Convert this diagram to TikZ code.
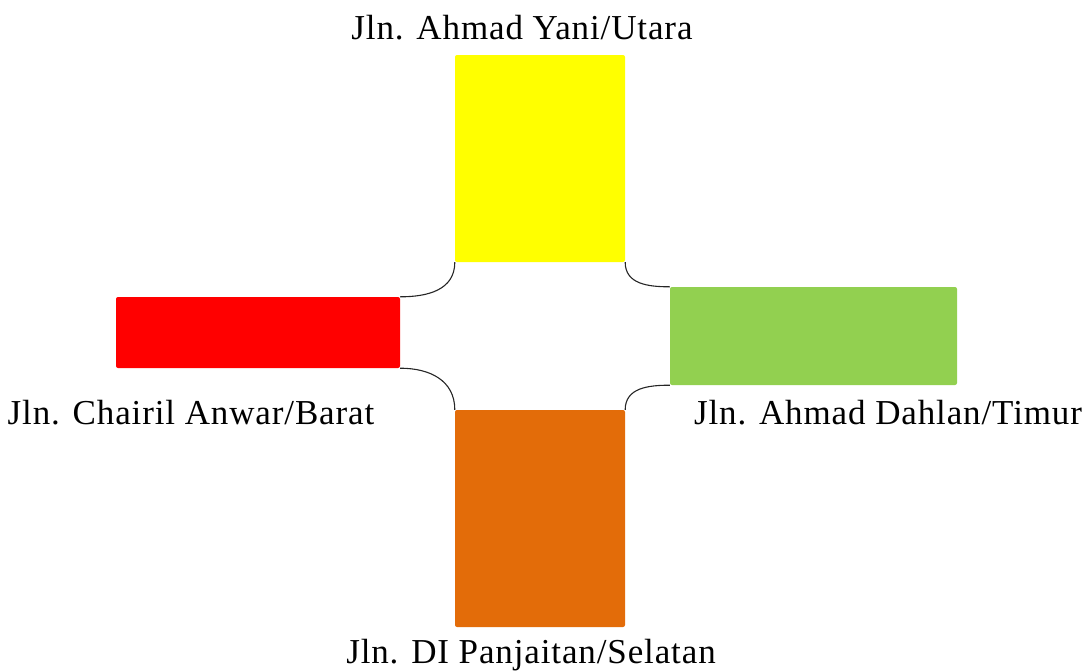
\documentclass[tikz,border=0pt]{standalone}
\usepackage{fontspec}
\setmainfont[LetterSpace=2.5]{Liberation Serif}
\definecolor{cyellow}{HTML}{FFFF00}
\definecolor{cred}{HTML}{FF0000}
\definecolor{cgreen}{HTML}{92D050}
\definecolor{corange}{HTML}{E36C09}
\begin{document}
\begin{tikzpicture}[x=1pt,y=1pt,
  road/.style={draw=none,rounded corners=2pt,inner sep=0pt},
  edgeline/.style={draw=black!85,line width=1.1pt,looseness=1.1},
  lbl/.style={font=\fontsize{35}{40}\selectfont,inner sep=0pt,anchor=center}]
\useasboundingbox (0,0) rectangle (1088,-670);
\node[road,fill=cyellow,minimum width=170pt,minimum height=207pt] (Y) at (540,-158.5) {};
\node[road,fill=cred,minimum width=284pt,minimum height=71pt] (R) at (258,-332.5) {};
\node[road,fill=cgreen,minimum width=287pt,minimum height=98pt] (G) at (813.5,-336) {};
\node[road,fill=corange,minimum width=170pt,minimum height=217pt] (O) at (540,-518.5) {};
\draw[edgeline] (Y.south west) to[out=-90,in=0] (R.north east);
\draw[edgeline] (Y.south east) to[out=-90,in=180] (G.north west);
\draw[edgeline] (R.south east) to[out=0,in=90] (O.north west);
\draw[edgeline] (G.south west) to[out=180,in=90] (O.north east);
\node[lbl] (tN) at (522,-28) {Jln. Ahmad Yani/Utara};
\node[lbl] (tW) at (191,-413) {Jln. Chairil Anwar/Barat};
\node[lbl] (tE) at (888,-413) {Jln. Ahmad Dahlan/Timur};
\node[lbl] (tS) at (531,-655) {Jln. DI Panjaitan/Selatan};
\end{tikzpicture}
\end{document}
